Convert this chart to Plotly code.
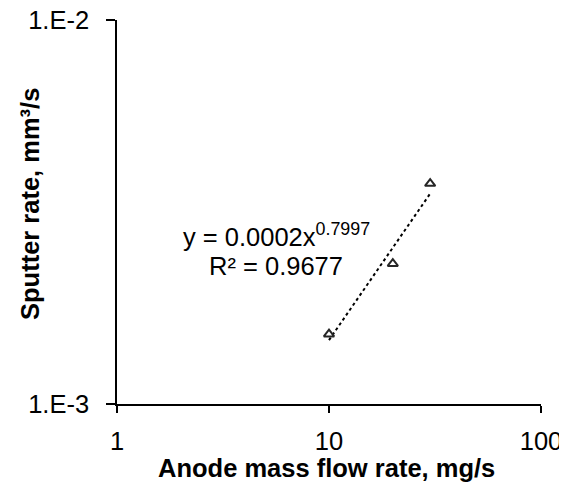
import numpy as np
import plotly.graph_objects as go

flow_rate = [10, 20, 30]
sputter_rate = [1.52e-3, 2.32e-3, 3.75e-3]
x_tick_vals = [1, 10, 100]
x_tick_text = ["1", "10", "100"]
y_tick_vals = [1e-3, 1e-2]
y_tick_text = ["1.E-3", "1.E-2"]
eq_text = "y = 0.0002x<sup>0.7997</sup>"
r2_text = "R² = 0.9677"
x_title = "<b>Anode mass flow rate, mg/s</b>"
y_title = "<b>Sputter rate, mm³/s</b>"

# power-law trendline (least squares in log space)
lx = np.log10(flow_rate)
ly = np.log10(sputter_rate)
b, a = np.polyfit(lx, ly, 1)
tx = np.array([min(flow_rate), max(flow_rate)])
ty = 10 ** (a + b * np.log10(tx))

font = "Liberation Sans, Arial, sans-serif"
FS = 25.5

fig = go.Figure()
fig.add_trace(go.Scatter(x=tx, y=ty, mode="lines",
                         line=dict(color="black", width=2, dash="dot"),
                         showlegend=False, hoverinfo="skip"))
fig.add_trace(go.Scatter(x=flow_rate, y=sputter_rate, mode="markers",
                         marker=dict(symbol="triangle-up-open", size=9,
                                     color="#262626", line=dict(width=2, color="#262626")),
                         showlegend=False))

fig.add_annotation(x=0.375, y=0.44, xref="paper", yref="paper", text=eq_text,
                   showarrow=False, font=dict(family=font, size=FS, color="black"),
                   xanchor="center", yanchor="middle")
fig.add_annotation(x=0.375, y=0.359, xref="paper", yref="paper", text=r2_text,
                   showarrow=False, font=dict(family=font, size=FS, color="black"),
                   xanchor="center", yanchor="middle")
fig.add_annotation(x=0.493, y=-0.167, xref="paper", yref="paper", text=x_title,
                   showarrow=False, font=dict(family=font, size=FS, color="black"),
                   xanchor="center", yanchor="middle")
fig.add_annotation(x=-0.205, y=0.521, xref="paper", yref="paper", text=y_title,
                   textangle=-90, showarrow=False,
                   font=dict(family=font, size=FS, color="black"),
                   xanchor="center", yanchor="middle")

fig.update_layout(
    width=567, height=484,
    margin=dict(l=109, r=34, t=12, b=88),
    paper_bgcolor="white", plot_bgcolor="white",
    font=dict(family=font, size=FS, color="black"),
    xaxis=dict(type="log", range=[0, 2], tickvals=x_tick_vals, ticktext=x_tick_text,
               automargin=False, ticklabeloverflow="allow",
               showgrid=False, zeroline=False, showline=True, linecolor="black",
               linewidth=1.5, ticks="outside", ticklen=7, tickwidth=1.5, tickcolor="black",
               ticklabelstandoff=7),
    yaxis=dict(type="log", range=[-3, -2], tickvals=y_tick_vals, ticktext=y_tick_text,
               automargin=False, ticklabeloverflow="allow",
               showgrid=False, zeroline=False, showline=True, linecolor="black",
               linewidth=1.5, ticks="outside", ticklen=9, tickwidth=1.5, tickcolor="black",
               ticklabelstandoff=12),
)

fig.write_html("out.html")
